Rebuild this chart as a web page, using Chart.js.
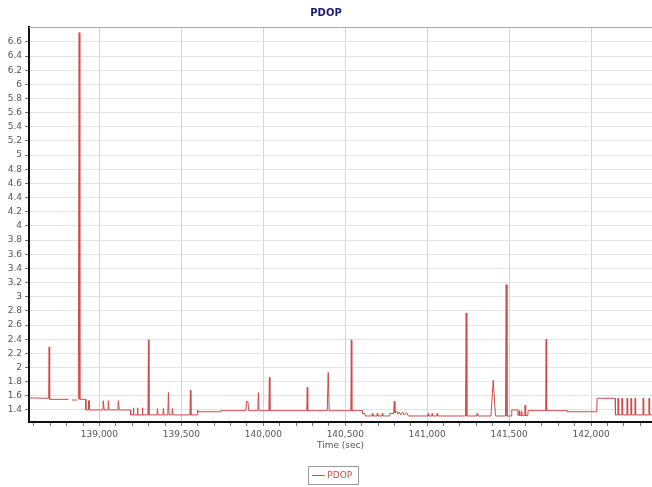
<!DOCTYPE html>
<html>
<head>
<meta charset="utf-8">
<title>PDOP</title>
<script src="https://cdn.jsdelivr.net/npm/chart.js@4.4.1/dist/chart.umd.min.js"></script>
<style>
    body { margin: 0; background: #ffffff; }
    canvas { display: block; }
</style>
</head>
<body>
<canvas id="pdopChart" width="652" height="487"></canvas>
<script>

// ---------------- DATA ----------------

const seriesName = "PDOP";
const axisTitle = "Time (sec)";

// time (sec) of each sample
const times = [
    138573, 138690, 138693, 138696, 138811, 138812, 138833, 138864, 138865,
    138871, 138876, 138880, 138915, 138917, 138931, 138933, 138937, 138939,
    139021, 139023, 139027, 139029, 139052, 139054, 139058, 139060,
    139113, 139115, 139119, 139121, 139189, 139191,
    139205, 139207, 139210, 139230, 139232, 139235, 139260, 139262, 139265,
    139296, 139299, 139302, 139351, 139354, 139358, 139387, 139390, 139394,
    139417, 139421, 139425, 139442, 139445, 139449, 139552, 139555, 139558,
    139596, 139598, 139601, 139738, 139740,
    139893, 139898, 139906, 139911, 139966, 139970, 139974,
    140034, 140037, 140040, 140265, 140268, 140271, 140390, 140396, 140402,
    140534, 140537, 140540, 140604, 140606, 140620, 140622,
    140663, 140665, 140669, 140693, 140695, 140699, 140724, 140726, 140729,
    140770, 140772, 140795, 140799, 140803, 140815, 140822, 140830, 140840,
    140850, 140860, 140875, 140885,
    141004, 141006, 141009, 141028, 141030, 141033, 141059, 141061, 141064,
    141234, 141238, 141242, 141303, 141305, 141308,
    141389, 141403, 141417, 141478, 141482, 141487,
    141514, 141516, 141553, 141555, 141560, 141562, 141565, 141575, 141577,
    141580, 141595, 141598, 141601, 141614, 141616,
    141723, 141726, 141729, 141854, 141856, 142035, 142037, 142147, 142149,
    142164, 142165, 142168, 142169, 142188, 142189, 142192, 142193,
    142219, 142220, 142223, 142224, 142243, 142244, 142247, 142248,
    142267, 142268, 142271, 142272, 142316, 142317, 142320, 142321,
    142353, 142354, 142357, 142358, 142372
];

// PDOP value at each time (null = no fix)
const pdop = [
    1.57, 1.565, 2.29, 1.55, 1.55, null, 1.54, 1.54, null,
    1.55, 6.73, 1.55, 1.55, 1.40, 1.40, 1.53, 1.53, 1.40,
    1.40, 1.53, 1.53, 1.40, 1.40, 1.53, 1.53, 1.40,
    1.40, 1.53, 1.53, 1.40, 1.40, 1.33,
    1.33, 1.43, 1.33, 1.33, 1.43, 1.33, 1.33, 1.43, 1.33,
    1.33, 2.39, 1.33, 1.33, 1.42, 1.33, 1.33, 1.42, 1.33,
    1.33, 1.645, 1.33, 1.33, 1.42, 1.33, 1.33, 1.68, 1.33,
    1.33, 1.40, 1.375, 1.375, 1.39,
    1.39, 1.52, 1.52, 1.39, 1.39, 1.645, 1.39,
    1.39, 1.86, 1.39, 1.39, 1.72, 1.39, 1.39, 1.93, 1.39,
    1.39, 2.39, 1.39, 1.39, 1.35, 1.35, 1.315,
    1.315, 1.35, 1.315, 1.315, 1.35, 1.315, 1.315, 1.35, 1.315,
    1.315, 1.35, 1.35, 1.52, 1.36, 1.38, 1.34, 1.37, 1.33,
    1.37, 1.33, 1.36, 1.315,
    1.315, 1.35, 1.315, 1.315, 1.35, 1.315, 1.315, 1.35, 1.315,
    1.315, 2.77, 1.315, 1.315, 1.35, 1.315,
    1.315, 1.82, 1.315, 1.315, 3.17, 1.315,
    1.315, 1.40, 1.40, 1.32, 1.32, 1.39, 1.32, 1.32, 1.38,
    1.32, 1.32, 1.47, 1.32, 1.32, 1.39,
    1.39, 2.40, 1.39, 1.39, 1.375, 1.375, 1.565, 1.565, 1.33,
    1.33, 1.565, 1.565, 1.33, 1.33, 1.565, 1.565, 1.33,
    1.33, 1.565, 1.565, 1.33, 1.33, 1.565, 1.565, 1.33,
    1.33, 1.565, 1.565, 1.33, 1.33, 1.565, 1.565, 1.33,
    1.33, 1.565, 1.565, 1.33, 1.33
];

// axis ranges and ticks
const xRange = [138570, 142372];
const xMinorStep = 100;
const xLabelStep = 500;
const yRange = [1.23, 6.81];
const yTicks = [
    1.4, 1.6, 1.8, 2, 2.2, 2.4, 2.6, 2.8, 3, 3.2, 3.4, 3.6, 3.8, 4,
    4.2, 4.4, 4.6, 4.8, 5, 5.2, 5.4, 5.6, 5.8, 6, 6.2, 6.4, 6.6
];

// ---------------- CHART ----------------

const frameBoxes = {
    id: "frameBoxes",

    // the legend sits a little right of the page centre
    afterLayout(chart) {
        chart.legend.left += 14;
    },

    afterDraw(chart) {
        const ctx = chart.ctx;
        const area = chart.chartArea;

        // top border of the plot
        ctx.save();
        ctx.strokeStyle = "#a8a8a8";
        ctx.lineWidth = 1;
        ctx.beginPath();
        ctx.moveTo(area.left, area.top + 0.5);
        ctx.lineTo(area.right, area.top + 0.5);
        ctx.stroke();

        // box round the legend
        const hit = chart.legend.legendHitBoxes[0];
        if (hit) {
            ctx.strokeStyle = "#9a9a9a";
            ctx.strokeRect(
                Math.round(hit.left - 6) + 0.5,
                Math.round(hit.top - 5) + 0.5,
                Math.round(hit.width + 12),
                Math.round(hit.height + 9)
            );
        }
        ctx.restore();
    }
};

new Chart(
    document.getElementById("pdopChart"),
    {
        type: "line",

        data: {
            datasets: [{
                label: seriesName,
                data: times.map((t, i) => ({ x: t, y: pdop[i] })),
                borderColor: "#d04a4a",
                backgroundColor: "#d04a4a",
                borderWidth: 1,
                pointRadius: 0,
                tension: 0,
                spanGaps: false,
                fill: false
            }]
        },

        plugins: [frameBoxes],

        options: {
            responsive: false,
            devicePixelRatio: 1,
            animation: false,
            layout: {
                padding: { left: 0, right: 0, top: 0, bottom: -3 }
            },

            plugins: {
                title: {
                    display: true,
                    text: seriesName,
                    color: "#1c1c74",
                    font: { family: "DejaVu Sans", size: 10, weight: "bold" },
                    padding: { top: 7, bottom: 8 }
                },
                legend: {
                    position: "bottom",
                    labels: {
                        usePointStyle: true,
                        pointStyle: "line",
                        boxWidth: 12,
                        color: "#d04a4a",
                        font: { family: "DejaVu Sans", size: 9 },
                        padding: 10
                    }
                },
                tooltip: { enabled: false }
            },

            scales: {
                x: {
                    type: "linear",
                    min: xRange[0],
                    max: xRange[1],
                    border: { color: "#111111", width: 2 },
                    grid: {
                        color: c => (c.tick && c.tick.value % xLabelStep === 0) ? "#d4d4d4" : "rgba(0,0,0,0)",
                        tickColor: "#777777",
                        tickLength: 4
                    },
                    ticks: {
                        autoSkip: false,
                        maxRotation: 0,
                        color: "#555555",
                        font: { family: "DejaVu Sans", size: 9 },
                        padding: 3,
                        callback: v => (v % xLabelStep === 0) ? v.toLocaleString("en-US") : ""
                    },
                    afterBuildTicks: scale => {
                        const ticks = [];
                        for (let v = Math.ceil(xRange[0] / xMinorStep) * xMinorStep; v <= xRange[1]; v += xMinorStep) {
                            ticks.push({ value: v });
                        }
                        scale.ticks = ticks;
                    },
                    title: {
                        display: true,
                        text: axisTitle,
                        color: "#555555",
                        font: { family: "DejaVu Sans", size: 9 },
                        padding: { top: 0, bottom: 10 }
                    },
                    afterFit: scale => { scale.height = 39; }
                },
                y: {
                    type: "linear",
                    min: yRange[0],
                    max: yRange[1],
                    border: { color: "#111111", width: 2 },
                    grid: {
                        color: "#e4e4e4",
                        tickColor: "#777777",
                        tickLength: 4
                    },
                    ticks: {
                        autoSkip: false,
                        color: "#555555",
                        font: { family: "DejaVu Sans", size: 9 },
                        padding: 3,
                        callback: v => Math.round(v * 10) / 10
                    },
                    afterBuildTicks: scale => {
                        scale.ticks = yTicks.map(v => ({ value: v }));
                    },
                    afterFit: scale => { scale.width = 29; }
                }
            }
        }
    }
);

</script>
</body>
</html>
